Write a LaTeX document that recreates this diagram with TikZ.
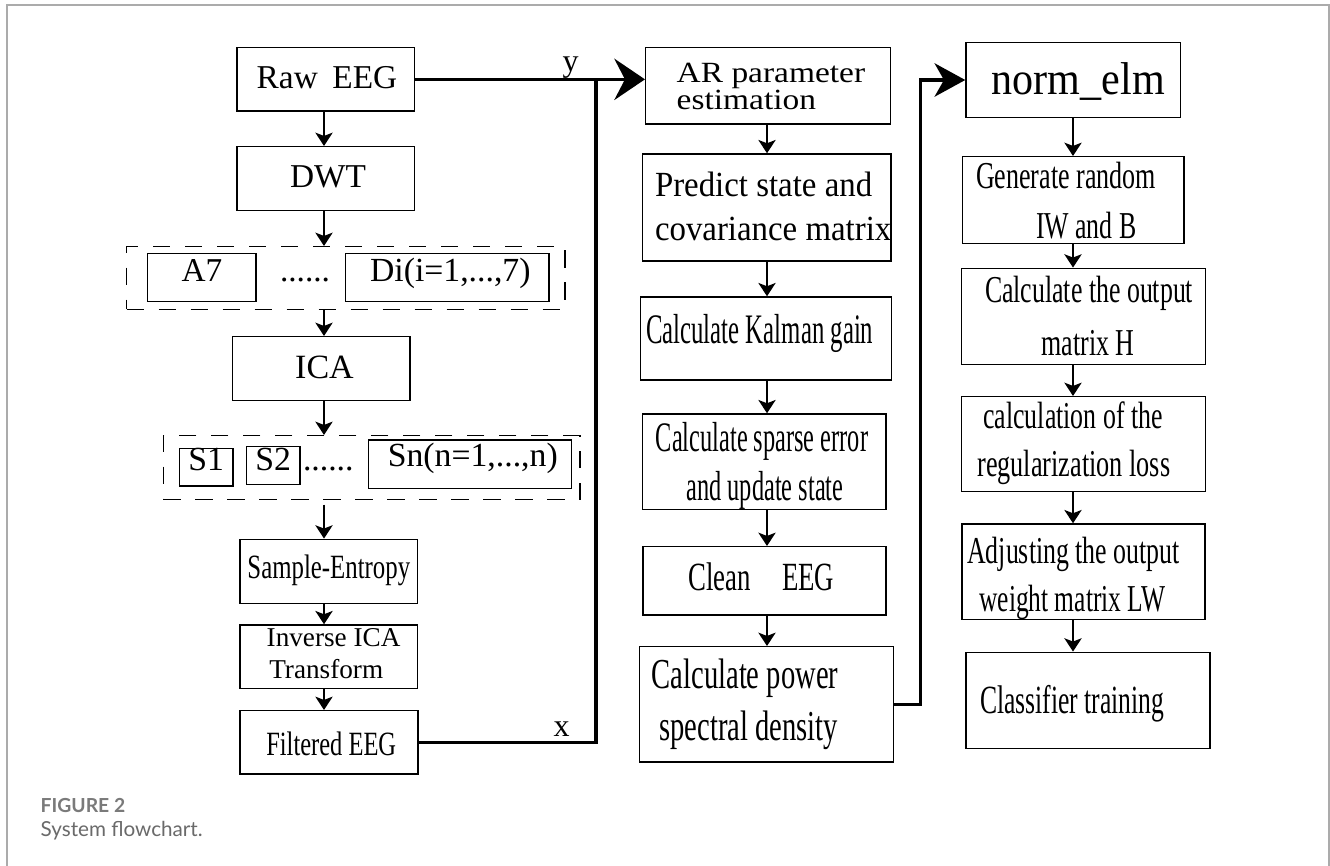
\documentclass[tikz,border=0pt]{standalone}
\usepackage{fontspec}
\setmainfont{Liberation Serif}
\newfontfamily\capfont{Lato}
\usepackage{graphicx}
\usetikzlibrary{arrows.meta,fit,calc}
\newcommand\tx[3]{\scalebox{#2}[1]{\fontsize{#1pt}{#1pt}\selectfont #3}}
\definecolor{framegrey}{HTML}{ABABAB}
\definecolor{capgrey}{HTML}{7A7A7A}
\definecolor{capgreyb}{HTML}{6A6A6A}
\begin{document}
\begin{tikzpicture}[x=0.75pt,y=-0.75pt,
  box/.style={draw, line width=1.1pt, inner sep=0pt},
  dbox/.style={draw, line width=1.1pt, inner sep=0pt, dash pattern=on 13pt off 11pt},
  t/.style={inner sep=0pt, outer sep=0pt},
  arr/.style={line width=1.1pt, -{Stealth[length=10pt,width=13pt,inset=2.5pt]}},
  thk/.style={line width=2.6pt},
  bigarr/.style={line width=2.6pt, -{Stealth[length=23pt,width=31pt,inset=8pt]}},
  frame/.style={draw=framegrey, line width=1.5pt}]
\useasboundingbox (0,0) rectangle (1330,866);
\fill[white] (0,0) rectangle (1330,866);
\draw[frame] (6.5,866) -- (6.5,5) -- (1328.5,5) -- (1328.5,866);

% column coordinates
\coordinate (colL) at (324,0);
\coordinate (colM) at (767,0);
\coordinate (colR) at (1073,0);
\coordinate (jn) at (596,79);
\coordinate (kn) at (920.7,80);

% left column boxes
\node[box, fit={(237,47.7) (414.3,111)}] (raw) {};
\node[box, fit={(237,146.7) (414.3,210.7)}] (dwt) {};
\node[dbox, fit={(126.7,246.7) (565,309.3)}] (dash1) {};
\node[box, fit={(147.7,253.3) (256,301.7)}] (a7) {};
\node[box, fit={(345.7,253.3) (549,301.7)}] (di) {};
\node[box, fit={(232.7,336.7) (410,400.3)}] (ica) {};
\node[dbox, fit={(163.3,435.7) (580,499.3)}] (dash2) {};
\node[box, fit={(179.3,448.7) (233,486)}] (s1) {};
\node[box, fit={(246.7,446.7) (300,484.3)}] (s2) {};
\node[box, fit={(368.3,440) (571.7,488.7)}] (sn) {};
\node[box, fit={(240,539.3) (417.3,603.3)}] (se) {};
\node[box, fit={(240,625) (417.7,688.3)}] (inv) {};
\node[box, fit={(240,710.7) (418,774)}] (filt) {};

% middle column boxes
\node[box, fit={(645.7,47.7) (890.7,124)}] (ar) {};
\node[box, fit={(642.7,154) (891,261)}] (pred) {};
\node[box, fit={(640.7,297) (891.7,380)}] (kal) {};
\node[box, fit={(642.7,414) (886,509.3)}] (sparse) {};
\node[box, fit={(643,546.7) (886,615)}] (clean) {};
\node[box, fit={(639.3,646.7) (893.3,762)}] (psd) {};

% right column boxes
\node[box, fit={(966,42.7) (1180.7,117.3)}] (norm) {};
\node[box, fit={(962.7,156.7) (1184,243.3)}] (gen) {};
\node[box, fit={(961.7,268.3) (1205.7,364.3)}] (calc) {};
\node[box, fit={(961.7,396.7) (1205.7,491.7)}] (reg) {};
\node[box, fit={(962,524) (1205,619.3)}] (adj) {};
\node[box, fit={(966,652.3) (1210,748.7)}] (cls) {};

% left texts
\node[t, anchor=base] (rawt) at (327,88.3) {\tx{25}{1}{Raw\hspace{11pt}EEG}};
\node[t, anchor=base] (dwtt) at (328,187.7) {\tx{25}{1}{DWT}};
\node[t, anchor=base] (a7t) at (202,281) {\tx{25}{1}{A7}};
\node[t, anchor=base] (dotsa) at (305,281) {\tx{25}{1}{......}};
\node[t, anchor=base] (dit) at (450.3,281) {\tx{25.3}{1}{Di(i=1,...,7)}};
\node[t, anchor=base] (icat) at (324.5,378.3) {\tx{25.5}{1}{ICA}};
\node[t, anchor=base] (s1t) at (206.3,470) {\tx{25.3}{1}{S1}};
\node[t, anchor=base] (s2t) at (273.3,470) {\tx{25.3}{1}{S2}};
\node[t, anchor=base] (dotsb) at (328.3,470) {\tx{25.3}{1}{......}};
\node[t, anchor=base] (snt) at (472.8,466.7) {\tx{25.3}{1}{Sn(n=1,...,n)}};
\node[t, anchor=base] (set) at (328.8,578.5) {\tx{25.5}{0.73}{Sample-Entropy}};
\node[t, anchor=base west] (invta) at (266.7,646.7) {\tx{20.4}{1}{Inverse ICA}};
\node[t, anchor=base west] (invtb) at (269.3,678.3) {\tx{20.4}{1}{Transform}};
\node[t, anchor=base] (filtt) at (331.2,755.7) {\tx{25.5}{0.72}{Filtered EEG}};
\node[t, anchor=base] (lbx) at (561.7,736.7) {\tx{24}{1}{x}};
\node[t, anchor=base] (lby) at (570.7,72) {\tx{24}{1}{y}};

% middle texts
\node[t, anchor=base west] (arta) at (676.7,82.7) {\tx{22}{1.14}{AR parameter}};
\node[t, anchor=base west] (artb) at (676.7,110) {\tx{22}{1.14}{estimation}};
\node[t, anchor=base west] (prta) at (655,196.7) {\tx{26.5}{0.93}{Predict state and}};
\node[t, anchor=base west] (prtb) at (655,240) {\tx{26.5}{0.93}{covariance matrix}};
\node[t, anchor=base] (kalt) at (759.7,343.3) {\tx{31.5}{0.59}{Calculate Kalman gain}};
\node[t, anchor=base] (spta) at (762,451.7) {\tx{31.5}{0.58}{Calculate sparse error}};
\node[t, anchor=base] (sptb) at (765,500) {\tx{31.5}{0.58}{and update state}};
\node[t, anchor=base west] (clt) at (688.3,590) {\tx{30}{0.67}{Clean\hspace{35pt}EEG}};
\node[t, anchor=base west] (psta) at (651.7,688.3) {\tx{32}{0.67}{Calculate power}};
\node[t, anchor=base west] (pstb) at (659.3,740) {\tx{32}{0.67}{spectral density}};

% right texts
\node[t, anchor=base] (normt) at (1078.3,95) {\tx{34.5}{0.915}{norm\_elm}};
\node[t, anchor=base west] (genta) at (976,188.3) {\tx{28.5}{0.685}{Generate random}};
\node[t, anchor=base west] (gentb) at (1036,238.3) {\tx{28.5}{0.68}{IW and B}};
\node[t, anchor=base west] (calcta) at (985,302) {\tx{28.5}{0.68}{Calculate the output}};
\node[t, anchor=base west] (calctb) at (1041.7,355) {\tx{28.5}{0.683}{matrix H}};
\node[t, anchor=base west] (regta) at (983.3,428.3) {\tx{28.5}{0.68}{calculation of the}};
\node[t, anchor=base west] (regtb) at (977.3,476.7) {\tx{28.5}{0.69}{regularization loss}};
\node[t, anchor=base west] (adjta) at (967.3,563.3) {\tx{28.5}{0.68}{Adjusting the output}};
\node[t, anchor=base west] (adjtb) at (979.3,611.7) {\tx{28.5}{0.67}{weight matrix LW}};
\node[t, anchor=base west] (clst) at (980,713.3) {\tx{30}{0.64}{Classifier training}};

% caption
\node[t, anchor=base west, text=capgrey] (figt) at (40.7,812.3) {\capfont\bfseries\fontsize{14.5pt}{16pt}\selectfont FIGURE 2};
\node[t, anchor=base west, text=capgreyb] (capt) at (40.7,836.7) {\capfont\fontsize{15.5pt}{18pt}\selectfont System flowchart.};

% left arrows
\draw[arr] (raw.south -| colL) -- (dwt.north -| colL);
\draw[arr] (dwt.south -| colL) -- (dash1.north -| colL);
\draw[arr] (dash1.south -| colL) -- (ica.north -| colL);
\draw[arr] (ica.south -| colL) -- (dash2.north -| colL);
\draw[arr, shorten <=3.5pt] (dash2.south -| colL) -- (se.north -| colL);
\draw[arr] (se.south -| colL) -- (inv.north -| colL);
\draw[arr] (inv.south -| colL) -- (filt.north -| colL);

% middle arrows
\draw[arr] (ar.south -| colM) -- (pred.north -| colM);
\draw[arr] (pred.south -| colM) -- (kal.north -| colM);
\draw[arr] (kal.south -| colM) -- (sparse.north -| colM);
\draw[arr] (sparse.south -| colM) -- (clean.north -| colM);
\draw[arr] (clean.south -| colM) -- (psd.north -| colM);

% right arrows
\draw[arr] (norm.south -| colR) -- (gen.north -| colR);
\draw[arr] (gen.south -| colR) -- (calc.north -| colR);
\draw[arr] (calc.south -| colR) -- (reg.north -| colR);
\draw[arr] (reg.south -| colR) -- (adj.north -| colR);
\draw[arr] (adj.south -| colR) -- (cls.north -| colR);

% thick connectors
\draw[bigarr] (raw.east) -- (raw.east -| ar.west);
\draw[thk] (filt.east) -| (jn);
\draw[line width=2.6pt, -{Stealth[length=23pt,width=25pt,inset=7pt]}] (psd.east) -| (kn) -- (norm.west);
\end{tikzpicture}
\end{document}
